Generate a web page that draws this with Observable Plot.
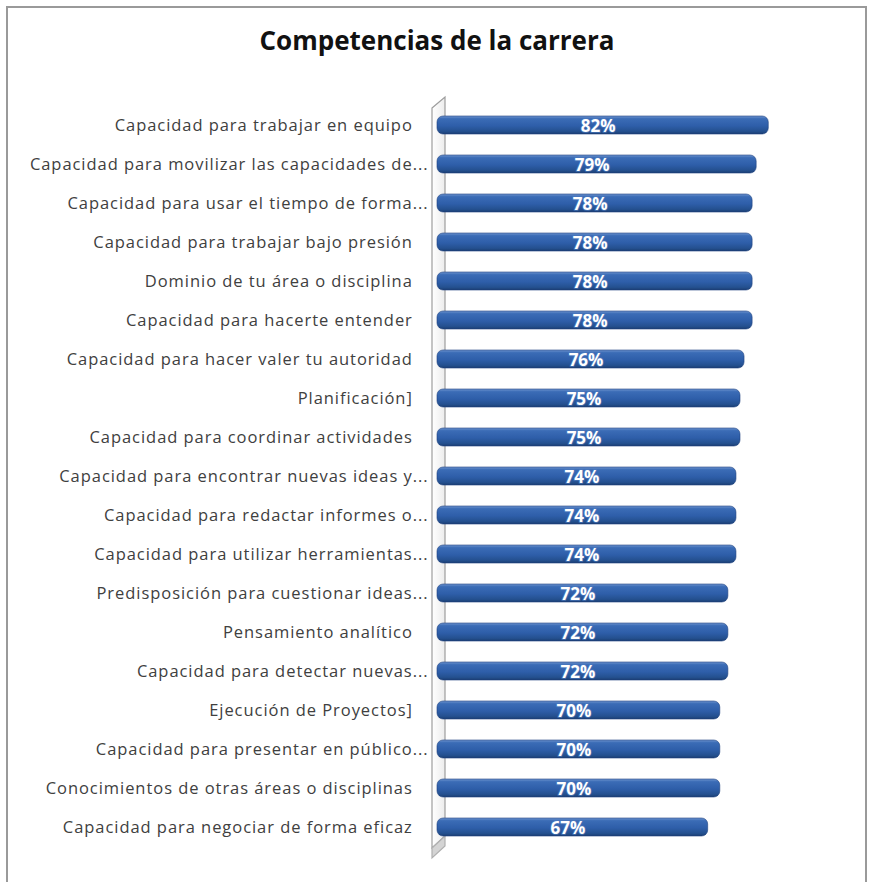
<!DOCTYPE html>
<html>
<head>
<meta charset="utf-8">
<script src="https://cdn.jsdelivr.net/npm/d3@7"></script>
<script src="https://cdn.jsdelivr.net/npm/@observablehq/plot@0.6"></script>
<style>
  html, body { margin: 0; padding: 0; background: #fff; }
  #frame {
    position: absolute; left: 6px; top: 6px; width: 861px; height: 900px;
    border: 2px solid #9a9a9a; border-bottom: none; box-sizing: border-box;
  }
  #wrap { position: relative; width: 872px; }
  #title {
    height: 90px; box-sizing: border-box; padding-top: 22px;
    text-align: center; font-family: "Open Sans", sans-serif; font-weight: 700;
    font-size: 26px; color: #111; letter-spacing: 0px; padding-left: 2px;
  }
  #chart svg { display: block; }
  #chart svg g[aria-label="y-axis tick label"] text { letter-spacing: 0.95px; }
</style>
</head>
<body>
<div id="frame"></div>
<div id="wrap">
  <div id="title">Competencias de la carrera</div>
  <div id="chart"></div>
</div>
<script>
const labels = [
  "Capacidad para trabajar en equipo",
  "Capacidad para movilizar las capacidades de...",
  "Capacidad para usar el tiempo de forma...",
  "Capacidad para trabajar bajo presión",
  "Dominio de tu área o disciplina",
  "Capacidad para hacerte entender",
  "Capacidad para hacer valer tu autoridad",
  "Planificación]",
  "Capacidad para coordinar actividades",
  "Capacidad para encontrar nuevas ideas y...",
  "Capacidad para redactar informes o...",
  "Capacidad para utilizar herramientas...",
  "Predisposición para cuestionar ideas...",
  "Pensamiento analítico",
  "Capacidad para detectar nuevas...",
  "Ejecución de Proyectos]",
  "Capacidad para presentar en público...",
  "Conocimientos de otras áreas o disciplinas",
  "Capacidad para negociar de forma eficaz"
];
const values = [0.82, 0.79, 0.78, 0.78, 0.78, 0.78, 0.76, 0.75, 0.75, 0.74, 0.74, 0.74, 0.72, 0.72, 0.72, 0.70, 0.70, 0.70, 0.67];

const data = labels.map((label, i) => ({label, value: values[i]}));

// gradient definitions for the cylinder look
const defsMark = () => {
  const g = d3.create("svg:g");
  const defs = g.append("defs");
  const lg = defs.append("linearGradient").attr("id", "cyl").attr("x1", 0).attr("y1", 0).attr("x2", 0).attr("y2", 1);
  [["0%", "#6f95cf"], ["15%", "#3b6cb6"], ["55%", "#2e5ea9"], ["85%", "#24508f"], ["100%", "#1b3e72"]]
    .forEach(([o, c]) => lg.append("stop").attr("offset", o).attr("stop-color", c));
  const wg = defs.append("linearGradient").attr("id", "wallg").attr("x1", 0).attr("y1", 0).attr("x2", 1).attr("y2", 0);
  [["0%", "#ffffff"], ["100%", "#ececec"]].forEach(([o, c]) => wg.append("stop").attr("offset", o).attr("stop-color", c));
  return g.node();
};

// 3D side wall next to the axis, derived from the x scale and frame
const wallMark = (index, scales, values, dim) => {
  const x0 = scales.x(0);
  const top = dim.marginTop, bottom = dim.height - dim.marginBottom;
  const fx = x0 - 5, bx = x0 + 8;
  const g = d3.create("svg:g").attr("fill", "none").attr("stroke", "#9d9d9d").attr("stroke-width", 1.2);
  g.append("path")
    .attr("d", `M${fx},${top + 14}L${bx},${top + 3}L${bx},${bottom - 22}L${fx},${bottom - 10}Z`)
    .attr("fill", "url(#wallg)");
  g.append("path")
    .attr("d", `M${fx},${bottom - 10}L${bx},${bottom - 22}L${bx},${bottom - 12}L${fx},${bottom}Z`)
    .attr("fill", "#d4d4d4").attr("stroke", "#b0b0b0");
  return g.node();
};

const isTrunc = s => s.endsWith("...");
const pad = "\u00a0\u00a0\u00a0";

const chart = Plot.plot({
  width: 872,
  height: 790,
  marginLeft: 437,
  marginRight: 31,
  marginTop: 4,
  marginBottom: 22,
  x: {domain: [0, 1], axis: null},
  y: {domain: labels, padding: 0.54, label: null},
  style: {fontFamily: "Open Sans, sans-serif", background: "transparent"},
  marks: [
    defsMark,
    wallMark,
    Plot.axisY({
      tickSize: 0,
      tickPadding: 9,
      fontSize: 16.5,
      fill: "#404040",
      tickFormat: d => isTrunc(d) ? d : d + pad
    }),
    Plot.barX(data, {
      x: "value",
      y: "label",
      fill: "url(#cyl)",
      rx: 6,
      stroke: "#1f4280",
      strokeWidth: 0.6
    }),
    Plot.text(data, {
      x: d => d.value / 2,
      y: "label",
      text: d => d3.format(".0%")(d.value),
      fill: "white",
      stroke: "#4f7bc0",
      strokeWidth: 2,
      strokeOpacity: 0.6,
      fontSize: 17,
      fontWeight: "bold",
      dx: -5,
      dy: 1
    })
  ]
});

document.getElementById("chart").appendChild(chart);
</script>
</body>
</html>
